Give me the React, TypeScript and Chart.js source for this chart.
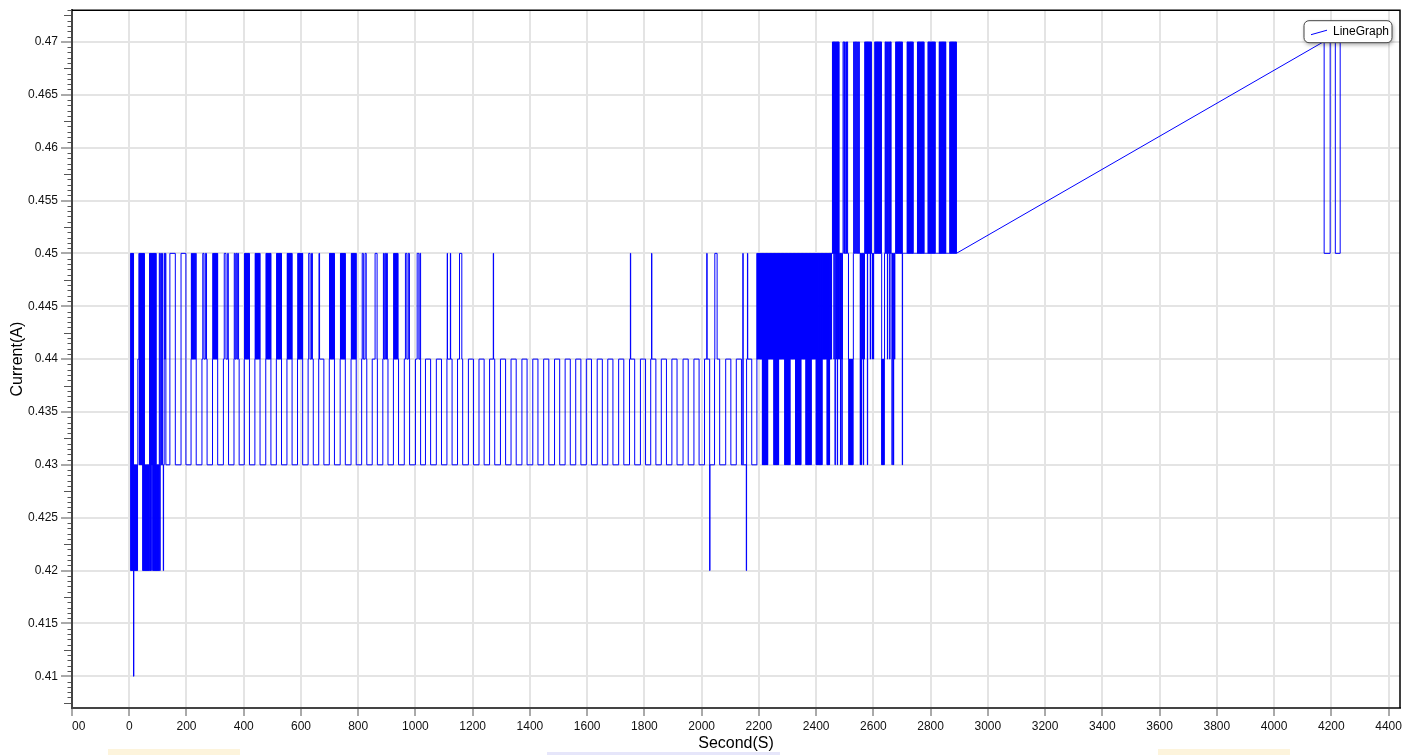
import React, { useEffect, useRef } from "react";
import { Chart, registerables } from "chart.js";

Chart.register(...registerables);

const FONT = "'Liberation Sans', Arial, sans-serif";

const seriesName = "LineGraph";
const xAxisTitle = "Second(S)";
const yAxisTitle = "Current(A)";

const xTickValues = [-200, 0, 200, 400, 600, 800, 1000, 1200, 1400, 1600, 1800, 2000, 2200, 2400, 2600, 2800, 3000, 3200, 3400, 3600, 3800, 4000, 4200, 4400];
const xTickLabels = ["00", "0", "200", "400", "600", "800", "1000", "1200", "1400", "1600", "1800", "2000", "2200", "2400", "2600", "2800", "3000", "3200", "3400", "3600", "3800", "4000", "4200", "4400"];
const yTickValues = [0.41, 0.415, 0.42, 0.425, 0.43, 0.435, 0.44, 0.445, 0.45, 0.455, 0.46, 0.465, 0.47];
const yTickLabels = ["0.41", "0.415", "0.42", "0.425", "0.43", "0.435", "0.44", "0.445", "0.45", "0.455", "0.46", "0.465", "0.47"];

// Step changes of the current: [second, new level in A]
// start-up, 4–128 s
const startChanges: [number, number][] = [
  [4, .45], [5, .42], [6, .45], [7, .42], [8, .45], [9, .42], [10, .45], [11, .42], [12, .45], [13, .42], [14, .45],
  [15, .41], [16, .42], [17, .43], [18, .42], [19, .43], [20, .42], [21, .43], [22, .42], [23, .43], [24, .42], [25, .43],
  [26, .42], [27, .43], [28, .42], [29, .43],
  [30, .44], [34, .45], [35, .43], [36, .45], [37, .43], [38, .45], [39, .43], [40, .45], [41, .43], [42, .45], [43, .43],
  [44, .45], [45, .43], [46, .45], [47, .42], [48, .45], [49, .42], [50, .45], [51, .42], [52, .45], [53, .42],
  [54, .43], [55, .42], [56, .43], [57, .42], [58, .43], [59, .42], [60, .43], [61, .42], [62, .43], [63, .42], [64, .43],
  [65, .42], [66, .43], [67, .42], [68, .43], [69, .42], [70, .43],
  [71, .45], [72, .42], [73, .45], [74, .42], [75, .45], [76, .42], [77, .45], [78, .43], [79, .45], [80, .43], [81, .45],
  [82, .42], [83, .45], [84, .42], [85, .45], [86, .42], [87, .45], [88, .42], [89, .45], [90, .42], [91, .45], [92, .42], [93, .45],
  [94, .42], [95, .43], [96, .42], [97, .43], [98, .42], [99, .43], [100, .42], [101, .43], [102, .42], [103, .43], [104, .42],
  [105, .45], [107, .42], [108, .43], [110, .45], [112, .43], [114, .45], [116, .43], [119, .42], [120, .43],
  [122, .45], [124, .44], [126, .45], [128, .43],
];

// regular 0.43 / 0.44 cycling with 0.45 excursions, 142–2175 s
const cycleChanges: [number, number][] = [
  [142, .45], [161, .43], [181, .45], [198, .43],
  [216, .44], [217, .45], [218, .44], [220, .45], [221, .44], [223, .45], [224, .44], [226, .45], [227, .44], [229, .45], [230, .44], [232, .45], [234, .43],
  [254, .44], [257, .45], [261, .44], [266, .45], [270, .44], [272, .43],
  [291, .44], [292, .45], [293, .44], [294, .45], [295, .44], [296, .45], [297, .44], [298, .45], [299, .44], [300, .45], [301, .44], [302, .45], [303, .44], [304, .45], [305, .44], [306, .45], [307, .44], [308, .45], [309, .43],
  [329, .44], [332, .45], [338, .44], [344, .45], [346, .44], [347, .43],
  [366, .44], [367, .45], [370, .44], [373, .45], [376, .44], [379, .45], [382, .44], [384, .43],
  [402, .44], [403, .45], [404, .44], [405, .45], [406, .44], [407, .45], [408, .44], [409, .45], [410, .44], [411, .45], [412, .44], [413, .45], [414, .44], [415, .45], [416, .44], [417, .45], [418, .44], [419, .45], [420, .43],
  [439, .44], [440, .45], [441, .44], [442, .45], [443, .44], [444, .45], [445, .44], [446, .45], [447, .44], [448, .45], [449, .44], [450, .45], [451, .44], [452, .45], [453, .44], [454, .45], [455, .44], [456, .45], [457, .43],
  [477, .44], [478, .45], [479, .44], [480, .45], [481, .44], [482, .45], [483, .44], [484, .45], [485, .44], [486, .45], [487, .44], [488, .45], [489, .44], [490, .45], [491, .44], [492, .45], [493, .44], [494, .45], [495, .43],
  [514, .44], [515, .45], [516, .44], [517, .45], [518, .44], [519, .45], [520, .44], [521, .45], [522, .44], [523, .45], [524, .44], [525, .45], [526, .44], [527, .45], [528, .44], [529, .45], [530, .44], [531, .45], [532, .43],
  [551, .44], [552, .45], [553, .44], [554, .45], [555, .44], [556, .45], [557, .44], [558, .45], [559, .44], [560, .45], [561, .44], [562, .45], [563, .44], [564, .45], [565, .44], [566, .45], [567, .44], [568, .45], [569, .43],
  [588, .44], [589, .45], [590, .44], [591, .45], [592, .44], [593, .45], [594, .44], [595, .45], [596, .44], [597, .45], [598, .44], [599, .45], [600, .44], [601, .45], [602, .44], [603, .45], [604, .44], [605, .45], [606, .43],
  [625, .44], [627, .45], [632, .44], [637, .45], [640, .44], [643, .43],
  [662, .44], [663, .45], [665, .44], [680, .43],
  [699, .44], [700, .45], [701, .44], [702, .45], [703, .44], [704, .45], [705, .44], [706, .45], [707, .44], [708, .45], [709, .44], [710, .45], [711, .44], [712, .45], [713, .44], [714, .45], [715, .44], [716, .45], [717, .43],
  [737, .44], [738, .45], [739, .44], [740, .45], [741, .44], [742, .45], [743, .44], [744, .45], [745, .44], [746, .45], [747, .44], [748, .45], [749, .44], [750, .45], [751, .44], [752, .45], [753, .44], [754, .45], [755, .43],
  [775, .44], [776, .45], [777, .44], [778, .45], [779, .44], [780, .45], [781, .44], [782, .45], [783, .44], [784, .45], [785, .44], [786, .45], [787, .44], [788, .45], [789, .44], [790, .45], [791, .44], [792, .45], [793, .43],
  [812, .44], [814, .45], [818, .44], [824, .45], [828, .44], [830, .43],
  [849, .44], [859, .45], [866, .44], [867, .43],
  [886, .44], [888, .45], [890, .44], [893, .45], [896, .44], [899, .45], [902, .44], [904, .43],
  [923, .44], [924, .45], [925, .44], [926, .45], [927, .44], [928, .45], [929, .44], [930, .45], [931, .44], [932, .45], [933, .44], [934, .45], [935, .44], [936, .45], [937, .44], [938, .45], [939, .44], [941, .43],
  [961, .44], [965, .45], [970, .44], [975, .45], [979, .44], [979.5, .43],
  [1000, .44], [1006, .45], [1012, .44], [1016, .45], [1018, .43],
  [1035, .44], [1053, .43], [1073, .44], [1091, .43],
  [1110, .44], [1111, .45], [1112, .44], [1122, .45], [1123, .44], [1128, .43],
  [1147, .44], [1154, .45], [1162, .44], [1165, .43],
  [1185, .44], [1203, .43], [1222, .44], [1240, .43],
  [1259, .44], [1272, .45], [1273, .44], [1277, .43],
  [1297, .44], [1315, .43], [1334, .44], [1352, .43], [1372, .44], [1390, .43], [1410, .44], [1428, .43],
  [1448, .44], [1466, .43], [1486, .44], [1504, .43], [1523, .44], [1541, .43], [1560, .44], [1578, .43],
  [1597, .44], [1615, .43], [1635, .44], [1653, .43], [1672, .44], [1690, .43], [1710, .44], [1728, .43],
  [1748, .44], [1751, .45], [1752, .44], [1766, .43], [1786, .44], [1804, .43],
  [1822, .44], [1825, .45], [1826, .44], [1840, .43], [1859, .44], [1877, .43], [1896, .44], [1914, .43],
  [1935, .44], [1953, .43], [1973, .44], [1991, .43],
  [2010, .44], [2018, .45], [2019, .44], [2028, .42], [2029, .43],
  [2045, .44], [2046, .45], [2054, .44], [2063, .43],
  [2084, .44], [2102, .43], [2121, .44], [2139, .43], [2144, .45], [2145, .43],
  [2156, .42], [2157, .44], [2160, .45], [2161, .44], [2175, .43],
];

// one reading per second, in hundredths of an ampere, 2193–2447 s
const blockStart = 2193;
const blockSamples = [
  45, 44, 45, 44, 45, 44, 45, 44, 45, 44, 45, 44, 45, 44, 45, 44, 45, 44, 45,
  43, 45, 43, 45, 43, 45, 43, 45, 43, 45, 43, 45, 43, 45, 43, 45, 43, 45, 43, 45,
  44, 45, 44, 45, 44, 45, 44, 45, 44, 45, 44, 45, 44, 45, 44, 45, 44, 45, 44, 45,
  43, 45, 43, 45, 43, 45, 43, 45, 43, 45, 43, 45, 43, 45, 43, 45, 43, 45,
  44, 45, 44, 45, 44, 45, 44, 45, 44, 45, 44, 45, 44, 45, 44, 45, 44, 45, 44, 45,
  43, 45, 43, 45, 43, 45, 43, 45, 43, 45, 43, 45, 43, 45, 43, 45, 43, 45, 43, 45,
  44, 45, 44, 45, 44, 45, 44, 45, 44, 45, 44, 45, 44, 45, 44, 45, 44, 45,
  43, 45, 43, 45, 43, 45, 43, 45, 43, 45, 43, 45, 43, 45, 43, 45, 43, 45, 43, 45,
  44, 45, 44, 45, 44, 45, 44, 45, 44, 45, 44, 45, 44, 45, 44, 45,
  43, 45, 43, 45, 43, 45, 43, 45, 43, 45, 43, 45, 43, 45, 43, 45, 43, 45, 43, 45,
  44, 45, 44, 45, 44, 45, 44, 45, 44, 45, 44, 45, 44, 45, 44, 45,
  43, 45, 43, 45, 43, 45, 43, 45, 43, 45, 43, 45, 43, 45, 43, 45, 43, 45, 43, 45, 43, 45,
  44, 45, 44, 45, 44, 45, 44, 45, 44, 45, 44, 45, 44, 45, 44, 45,
  43, 45, 43, 45, 43, 45, 43, 45, 43, 45,
];

// one reading per second, in hundredths of an ampere, 2448–2890 s
const highStart = 2448;
const highSamples = [
  45, 44, 45, 44, 45, 44, 45, 45, 45,
  47, 45, 47, 45, 47, 44, 47, 45, 47, 43, 47, 45, 47, 44, 47, 45, 47, 43, 47, 45, 47, 44, 47, 45,
  45, 44, 45, 45, 43, 45, 44, 45, 45, 43, 44, 45, 45,
  47, 47, 47, 45, 45, 47, 47, 45, 45, 45, 47, 47, 45, 45, 47, 47, 45, 45, 45,
  44, 43, 44, 43, 44, 43, 44, 43, 44, 43, 44, 43, 44, 43, 44, 43, 44, 45,
  47, 47, 45, 45, 47, 47, 47, 45, 45, 47, 47, 45, 45, 45, 47, 47, 45, 45, 47, 47, 45, 45,
  45, 43, 45, 44, 45, 43, 44, 45, 45, 44, 45, 45, 43, 45, 45, 44, 45,
  47, 45, 47, 45, 47, 45, 47, 45, 47, 43, 47, 45, 47, 45, 47, 45, 47, 45, 47, 44, 47, 45, 47, 45,
  45, 45, 44, 45, 45, 45, 44, 45, 45, 45, 45,
  47, 45, 47, 45, 47, 45, 47, 45, 47, 45, 47, 45, 47, 45, 47, 45, 47, 45, 47, 45, 47, 45, 47, 45,
  43, 44, 43, 44, 43, 44, 43, 44, 43, 44, 45, 45,
  47, 47, 45, 47, 45, 45, 47, 47, 44, 45, 47, 45, 45, 47, 47, 45, 44, 47, 45, 47, 47, 45, 45,
  45, 43, 45, 44, 45, 45, 43, 44, 45, 45, 44, 45, 45, 45,
  47, 45, 47, 45, 47, 45, 47, 45, 47, 45, 47, 45, 47, 45, 47, 45, 47, 45, 47, 45, 47, 45, 47, 43, 45,
  45, 45, 45, 45, 45, 45, 45, 45, 45, 45, 45, 45, 45, 45, 45,
  47, 45, 47, 45, 47, 45, 47, 45, 47, 45, 47, 45, 47, 45, 47, 45, 47, 45, 47, 45, 47, 45,
  45, 45, 45, 45, 45, 45, 45, 45, 45, 45, 45, 45, 45, 45,
  47, 45, 47, 45, 47, 45, 47, 45, 47, 45, 47, 45, 47, 45, 47, 45, 47, 45, 47, 45, 47, 45, 47,
  45, 45, 45, 45, 45, 45, 45, 45, 45, 45, 45, 45, 45, 45,
  47, 45, 47, 45, 47, 45, 47, 45, 47, 45, 47, 45, 47, 45, 47, 45, 47, 45, 47, 45, 47, 45, 47, 45, 47,
  45, 45, 45, 45, 45, 45, 45, 45, 45, 45, 45, 45, 45, 45,
  47, 45, 47, 45, 47, 45, 47, 45, 47, 45, 47, 45, 47, 45, 47, 45, 47, 45, 47, 45, 47, 45, 47, 45,
  45, 45, 45, 45, 45, 45, 45, 45, 45, 45, 45, 45, 45,
  47, 45, 47, 45, 47, 45, 47, 45, 47, 45, 47, 45, 47, 45, 47, 45, 47, 45, 47, 45, 47, 45, 47,
  45,
];

// after the logging gap, 4172–4231 s
const tailChanges: [number, number][] = [
  [4172, .47], [4175, .45], [4196, .47], [4214, .45], [4231, .47],
];

function samplesToChanges(start: number, samples: number[]): [number, number][] {
  return samples.map((c, i) => [start + i, c / 100] as [number, number]);
}

function toStepPoints(changes: [number, number][]) {
  const pts: { x: number; y: number }[] = [];
  changes.forEach(([t, v], i) => {
    if (i > 0) pts.push({ x: t, y: changes[i - 1][1] });
    pts.push({ x: t, y: v });
  });
  return pts;
}

const framePlugin = {
  id: "frame",
  afterDraw(chart: any) {
    const { ctx, chartArea: a, scales } = chart;
    const y = scales.y;
    ctx.save();
    ctx.strokeStyle = "#555";
    ctx.lineWidth = 1;
    for (let k = 815; k <= 946; k++) {
      if (k % 10 === 0) continue;
      const v = k * 0.0005;
      const len = k % 5 === 0 ? 7 : 3.5;
      const py = Math.round(y.getPixelForValue(v)) + 0.5;
      ctx.beginPath();
      ctx.moveTo(a.left - 1, py);
      ctx.lineTo(a.left - 1 - len, py);
      ctx.stroke();
    }
    ctx.strokeStyle = "#000";
    ctx.lineWidth = 1.5;
    ctx.beginPath();
    ctx.moveTo(a.left, a.top);
    ctx.lineTo(a.right, a.top);
    ctx.lineTo(a.right, a.bottom);
    ctx.stroke();
    const bx = a.right - 96, by = a.top + 10.5, bw = 88, bh = 22;
    ctx.save();
    ctx.shadowColor = "rgba(0,0,0,0.35)";
    ctx.shadowBlur = 4;
    ctx.shadowOffsetX = 1;
    ctx.shadowOffsetY = 2;
    ctx.fillStyle = "#fff";
    ctx.beginPath();
    ctx.roundRect(bx, by, bw, bh, 5);
    ctx.fill();
    ctx.restore();
    ctx.strokeStyle = "#444";
    ctx.lineWidth = 1;
    ctx.beginPath();
    ctx.roundRect(bx, by, bw, bh, 5);
    ctx.stroke();
    ctx.strokeStyle = "#0000ff";
    ctx.beginPath();
    ctx.moveTo(bx + 7, by + 14);
    ctx.lineTo(bx + 23, by + 9.5);
    ctx.stroke();
    ctx.fillStyle = "#000";
    ctx.font = `12px ${FONT}`;
    ctx.textBaseline = "middle";
    ctx.textAlign = "left";
    ctx.fillText(seriesName, bx + 29, by + 11);
    ctx.restore();
  },
};

export default function App() {
  const ref = useRef<HTMLCanvasElement | null>(null);
  useEffect(() => {
    if (!ref.current) return;
    const points = [
      ...toStepPoints([
        ...startChanges,
        ...cycleChanges,
        ...samplesToChanges(blockStart, blockSamples),
        ...samplesToChanges(highStart, highSamples),
      ]),
      ...toStepPoints(tailChanges),
    ];
    const chart = new Chart(ref.current, {
      type: "line",
      data: {
        datasets: [
          {
            label: seriesName,
            data: points,
            borderColor: "#0000ff",
            borderWidth: 1,
            // a single unbroken dash keeps the line solid but makes Chart.js stroke every point
            borderDash: [1e7, 0],
            pointRadius: 0,
            tension: 0,
            fill: false,
          },
        ],
      },
      options: {
        animation: false,
        responsive: false,
        events: [],
        layout: { padding: { left: 0, right: 15, top: 8, bottom: 0 } },
        plugins: { legend: { display: false }, tooltip: { enabled: false } },
        scales: {
          x: {
            type: "linear",
            min: -200,
            max: 4440,
            afterFit: (s: any) => { s.height = 47; },
            afterBuildTicks: (s: any) => { s.ticks = xTickValues.map((v) => ({ value: v })); },
            ticks: {
              autoSkip: false,
              maxRotation: 0,
              padding: 3,
              color: "#111",
              font: { family: FONT, size: 12 },
              callback: (_v: any, i: number) => (i === 0 ? "\u00a0\u00a0\u00a0\u00a0" + xTickLabels[i] : xTickLabels[i]),
            },
            grid: { color: "#e4e4e4", lineWidth: 2, tickLength: 8, tickColor: "#555", tickWidth: 1 },
            border: { color: "#444", width: 2 },
            title: { display: true, text: xAxisTitle, color: "#000", font: { family: FONT, size: 16 }, padding: { top: 0, bottom: 2 } },
          },
          y: {
            type: "linear",
            min: 0.407,
            max: 0.473,
            afterFit: (s: any) => { s.width = 72; },
            afterBuildTicks: (s: any) => { s.ticks = yTickValues.map((v) => ({ value: v })); },
            ticks: {
              autoSkip: false,
              padding: 3,
              color: "#111",
              font: { family: FONT, size: 12 },
              callback: (_v: any, i: number) => yTickLabels[i],
            },
            grid: { color: "#e4e4e4", lineWidth: 2, tickLength: 11, tickColor: "#555", tickWidth: 1 },
            border: { color: "#444", width: 2 },
            title: { display: true, text: yAxisTitle, color: "#000", font: { family: FONT, size: 16 }, padding: { top: 8, bottom: 0 } },
          },
        },
      },
      plugins: [framePlugin],
    } as any);
    return () => chart.destroy();
  }, []);

  return (
    <div style={{ position: "absolute", left: 0, top: 0, width: 1415, height: 755, background: "#fff", overflow: "hidden" }}>
      <canvas ref={ref} width={1415} height={755} style={{ display: "block" }} />
      <div style={{ position: "absolute", left: 108, top: 749, width: 132, height: 6, background: "#fdf4dc" }} />
      <div style={{ position: "absolute", left: 547, top: 752, width: 233, height: 3, background: "#e6e6fa" }} />
      <div style={{ position: "absolute", left: 1158, top: 749, width: 132, height: 6, background: "#fdf4dc" }} />
    </div>
  );
}
